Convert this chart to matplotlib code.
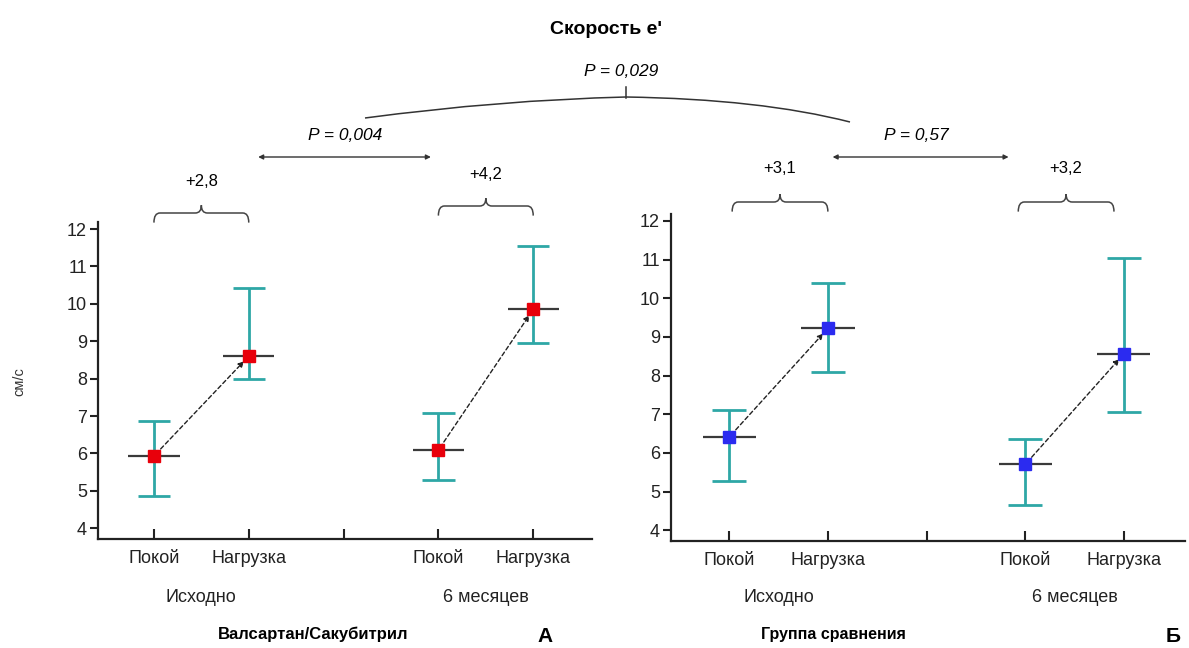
import matplotlib
matplotlib.use("Agg")
import matplotlib.pyplot as plt
import matplotlib.transforms as mtransforms
from matplotlib.path import Path
from matplotlib.patches import PathPatch, FancyArrowPatch

plt.rcParams['font.family'] = ['Liberation Sans', 'DejaVu Sans']

# ---- data ----
positions = [1, 2, 4, 5]
tick_labels = ["Покой", "Нагрузка", "", "Покой", "Нагрузка"]
group_labels = ["Исходно", "6 месяцев"]

valsartan_mean = [5.93, 8.60, 6.09, 9.85]
valsartan_low = [4.85, 7.99, 5.28, 8.95]
valsartan_high = [6.86, 10.42, 7.07, 11.54]

compar_mean = [6.41, 9.22, 5.70, 8.56]
compar_low = [5.26, 8.10, 4.65, 7.07]
compar_high = [7.11, 10.39, 6.37, 11.05]

changes_left = ["+2,8", "+4,2"]
changes_right = ["+3,1", "+3,2"]
p_left = "P = 0,004"
p_right = "P = 0,57"
p_between = "P = 0,029"

W, H = 1189, 648
fig = plt.figure(figsize=(W / 100, H / 100), dpi=100)

def fx(px):
    return px / W

def fy(py):
    return 1 - py / H

teal = "#2ea7a6"
narrow = ['Liberation Sans Narrow', 'Liberation Sans', 'DejaVu Sans']

def make_panel(rect, mean, low, high, color, ylim):
    ax = fig.add_axes(rect)
    ax.set_xlim(0.41, 5.62)
    ax.set_ylim(*ylim)
    for x, m, lo, hi in zip(positions, mean, low, high):
        ax.vlines(x, lo, hi, color=teal, lw=2.0, zorder=2)
        ax.hlines([lo, hi], x - 0.17, x + 0.17, color=teal, lw=2.0, zorder=2)
        ax.hlines(m, x - 0.27, x + 0.27, color="#3a3a3a", lw=1.6, zorder=3)
        ax.plot(x, m, marker="s", ms=9, color=color, mec=color, zorder=5)
    for i in (0, 2):
        ax.annotate("", xy=(positions[i + 1], mean[i + 1]), xytext=(positions[i], mean[i]),
                    arrowprops=dict(arrowstyle="-|>", ls=(0, (3, 2)), lw=1.0, color="#222222",
                                    mutation_scale=8, shrinkA=2, shrinkB=5), zorder=4)
    for s in ("top", "right"):
        ax.spines[s].set_visible(False)
    for s in ("left", "bottom"):
        ax.spines[s].set_linewidth(1.6)
        ax.spines[s].set_color("#222222")
    ax.set_yticks(range(4, 13))
    ax.tick_params(axis="y", direction="out", length=6, width=1.5, labelsize=13, colors="#222222", pad=2)
    ax.set_xticks([1, 2, 3, 4, 5])
    ax.set_xticklabels(tick_labels)
    ax.tick_params(axis="x", direction="in", length=7, width=1.5, labelsize=13, colors="#222222", pad=8)
    return ax

axL = make_panel([fx(98), fy(539), fx(592) - fx(98), fy(222) - fy(539)],
                 valsartan_mean, valsartan_low, valsartan_high, "#e8000b", (3.71, 12.19))
axR = make_panel([fx(671), fy(541), fx(1185) - fx(671), fy(214) - fy(541)],
                 compar_mean, compar_low, compar_high, "#2b2bf0", (3.72, 12.18))

fig.text(fx(19), fy(382), "см/с", rotation=90, ha="center", va="center", fontsize=10.5, color="#333333")

def brace(ax, x1, x2, ypx):
    p1 = ax.transData.transform((x1, 0))[0] / W
    p2 = ax.transData.transform((x2, 0))[0] / W
    xc = (p1 + p2) / 2
    y = fy(ypx)
    d = 6 / H
    r = 6 / W
    verts = [(p1, y - 1.6 * d), (p1, y), (p1 + r, y),
             (xc - r, y), (xc, y), (xc, y + 1.3 * d),
             (xc, y), (xc + r, y),
             (p2 - r, y), (p2, y), (p2, y - 1.6 * d)]
    codes = [Path.MOVETO, Path.CURVE3, Path.CURVE3,
             Path.LINETO, Path.CURVE3, Path.CURVE3,
             Path.CURVE3, Path.CURVE3,
             Path.LINETO, Path.CURVE3, Path.CURVE3]
    fig.add_artist(PathPatch(Path(verts, codes), fc="none", ec="#444444", lw=1.1,
                             transform=fig.transFigure))
    return xc

def darrow(ax, x1, x2, ypx):
    tr = mtransforms.blended_transform_factory(ax.transData, fig.transFigure)
    a = FancyArrowPatch((x1, fy(ypx)), (x2, fy(ypx)), transform=tr, arrowstyle="<|-|>",
                        mutation_scale=7, lw=1.0, color="#333333")
    fig.add_artist(a)

# braces and change labels
xc = brace(axL, 1, 2, 213); fig.text(xc, fy(181), changes_left[0], ha="center", va="center", fontsize=12, family=narrow)
xc = brace(axL, 4, 5, 206); fig.text(xc, fy(174), changes_left[1], ha="center", va="center", fontsize=12, family=narrow)
xc = brace(axR, 1.03, 2.0, 202); fig.text(xc, fy(169), changes_right[0], ha="center", va="center", fontsize=12, family=narrow)
xc = brace(axR, 3.93, 4.9, 202); fig.text(xc, fy(169), changes_right[1], ha="center", va="center", fontsize=12, family=narrow)

# p arrows
darrow(axL, 2.07, 3.95, 157)
fig.text(fx(345), fy(136), p_left, ha="center", va="center", fontsize=12.5, style="italic", family=narrow)
darrow(axR, 2.02, 3.86, 157)
fig.text(fx(916), fy(136), p_right, ha="center", va="center", fontsize=12.5, style="italic", family=narrow)

# arc between groups
verts = [(fx(365), fy(118)), (fx(500), fy(100)), (fx(626), fy(97)),
         (fx(760), fy(99)), (fx(850), fy(122))]
codes = [Path.MOVETO, Path.CURVE3, Path.CURVE3, Path.CURVE3, Path.CURVE3]
fig.add_artist(PathPatch(Path(verts, codes), fc="none", ec="#333333", lw=1.1, transform=fig.transFigure))
fig.add_artist(plt.Line2D([fx(626), fx(626)], [fy(87), fy(98)], color="#333333", lw=1.1))
fig.text(fx(621), fy(72), p_between, ha="center", va="center", fontsize=12.5, style="italic", family=narrow)

# title
fig.text(fx(606), fy(30), "Скорость е'", ha="center", va="center", fontsize=14, fontweight="bold")

# group labels and panel titles
for ax, ypx_g in ((axL, 598), (axR, 597)):
    for gx, g in zip((1.5, 4.5), group_labels):
        xfig = ax.transData.transform((gx, 0))[0] / W
        fig.text(xfig, fy(ypx_g), g, ha="center", va="center", fontsize=13, color="#222222")

fig.text(fx(313), fy(634), "Валсартан/Сакубитрил", ha="center", va="center", fontsize=12, fontweight="bold")
fig.text(fx(833), fy(634), "Группа сравнения", ha="center", va="center", fontsize=11.5, fontweight="bold")
fig.text(fx(545), fy(637), "А", ha="center", va="center", fontsize=15, fontweight="bold")
fig.text(fx(1173), fy(637), "Б", ha="center", va="center", fontsize=15, fontweight="bold")

fig.savefig("out.png", dpi=100)
